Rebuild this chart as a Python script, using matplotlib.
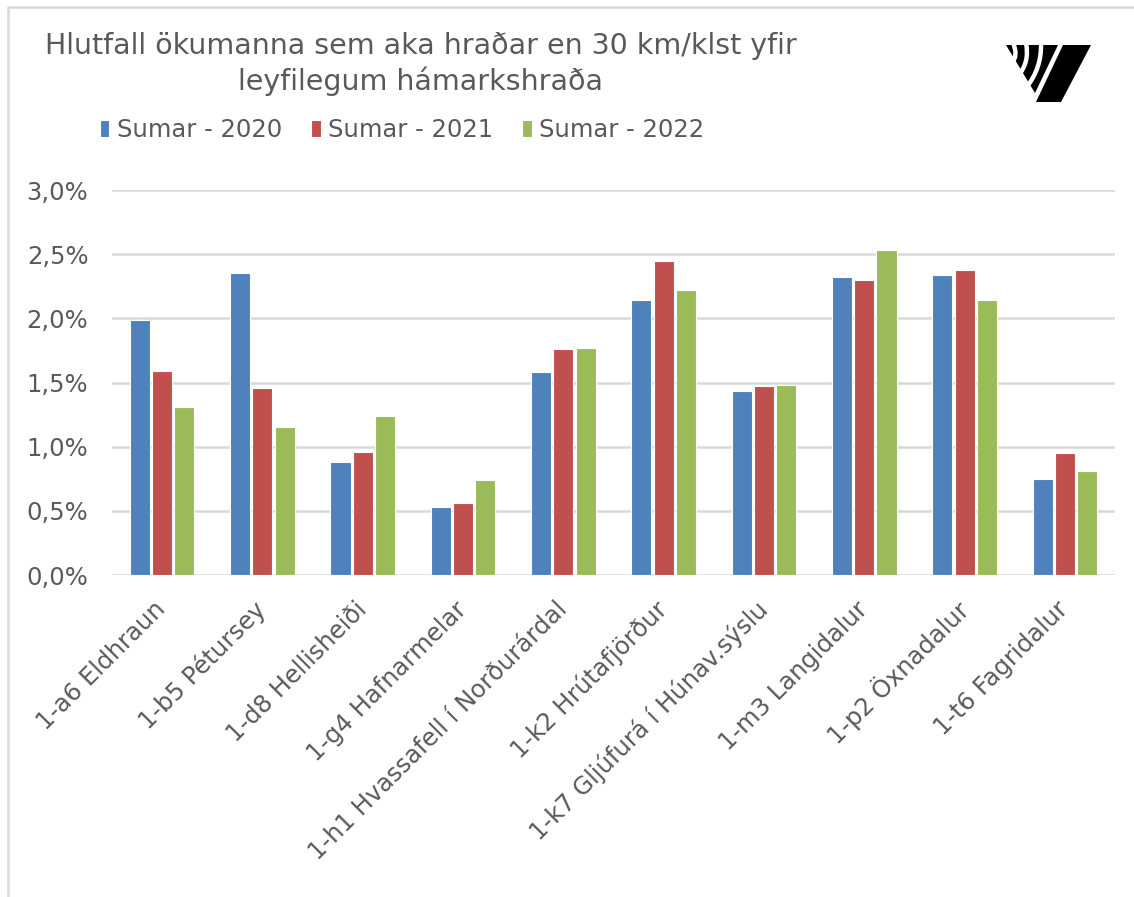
import matplotlib.pyplot as plt
import numpy as np
from matplotlib.patches import Polygon, PathPatch
from matplotlib.path import Path

plt.rcParams['font.family'] = ['DejaVu Sans']

categories = ['1-a6 Eldhraun', '1-b5 Pétursey', '1-d8 Hellisheiði', '1-g4 Hafnarmelar',
              '1-h1 Hvassafell í Norðurárdal', '1-k2 Hrútafjörður',
              '1-k7 Gljúfurá í Húnav.sýslu', '1-m3 Langidalur', '1-p2 Öxnadalur',
              '1-t6 Fagridalur']
sumar_2020 = [1.99, 2.35, 0.88, 0.53, 1.58, 2.14, 1.43, 2.32, 2.34, 0.75]
sumar_2021 = [1.59, 1.46, 0.96, 0.56, 1.76, 2.45, 1.47, 2.30, 2.38, 0.95]
sumar_2022 = [1.31, 1.15, 1.24, 0.74, 1.77, 2.22, 1.48, 2.53, 2.14, 0.81]
series_names = ['Sumar - 2020', 'Sumar - 2021', 'Sumar - 2022']
colors = ['#4F81BD', '#C0504D', '#9BBB59']
text_color = '#595959'

W, H = 1134, 897
fig = plt.figure(figsize=(W / 100, H / 100), dpi=100)

# background layer in pixel coordinates for border + logo
bg = fig.add_axes([0, 0, 1, 1])
bg.plot([8, 8, W + 5], [H + 5, 7, 7], color='#d9d9d9', lw=1.8)

# logo: parallelogram + striped triangle
bg.add_patch(Polygon([(1063, 45), (1091, 45), (1061, 102), (1036, 102)], closed=True,
                     color='black', lw=0))
bg.add_patch(Polygon([(1006, 45), (1058, 45), (1035, 93)], closed=True, color='black', lw=0))
C3 = [Path.MOVETO, Path.CURVE3, Path.CURVE3]
for pts in [[(1013, 43), (1019, 56), (1011, 64)],
            [(1026, 43), (1030, 62), (1018, 76)],
            [(1041, 43), (1042, 68), (1026, 88)]]:
    bg.add_patch(PathPatch(Path(pts, C3), fill=False, edgecolor='white', lw=3.2))
bg.set_xlim(0, W)
bg.set_ylim(H, 0)
bg.axis('off')

ax = fig.add_axes([112 / W, 1 - 575 / H, (1115 - 112) / W, (575 - 190) / H])
x = np.arange(len(categories))
width = 0.2
offsets = [-0.222, 0, 0.222]
for vals, name, c, off in zip([sumar_2020, sumar_2021, sumar_2022], series_names, colors, offsets):
    ax.bar(x + off, vals, width, color=c, edgecolor='white', linewidth=0.8, label=name, zorder=3)

ax.set_xlim(-0.5, len(categories) - 0.5)
ax.set_ylim(0, 3.0)
ax.set_yticks(np.arange(0, 3.01, 0.5))
ax.set_yticklabels([f'{v:.1f}%'.replace('.', ',') for v in np.arange(0, 3.01, 0.5)])
ax.yaxis.grid(True, color='#d9d9d9', lw=1.8, zorder=0)
ax.set_axisbelow(True)
for s in ax.spines.values():
    s.set_visible(False)
ax.tick_params(axis='both', length=0, colors=text_color, labelsize=17.5)
ax.tick_params(axis='y', pad=17)
ax.set_xticks(x)
ax.set_xticklabels(categories, rotation=45, ha='right', va='center', rotation_mode='anchor')
ax.tick_params(axis='x', pad=22)

fig.text(421 / W, 1 - 64 / H,
         'Hlutfall ökumanna sem aka hraðar en 30 km/klst yfir\nleyfilegum hámarkshraða',
         ha='center', va='center', fontsize=20.5, color=text_color, linespacing=1.25)

handles, labels = ax.get_legend_handles_labels()
fig.legend(handles, labels, loc='center', bbox_to_anchor=(402 / W, 1 - 130 / H), ncol=3,
           frameon=False, fontsize=17.5, labelcolor=text_color, handlelength=0.4,
           handleheight=0.75, handletextpad=0.3, columnspacing=1.2)

fig.savefig('out.png', dpi=100)
